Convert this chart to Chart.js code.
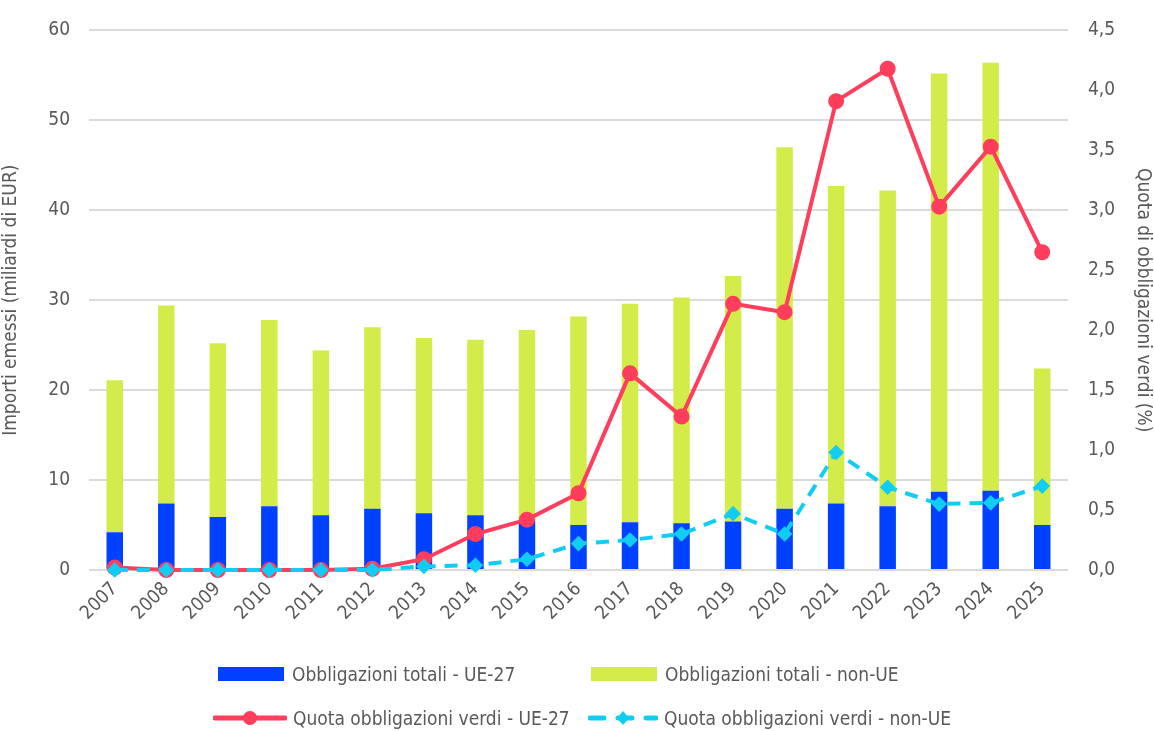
<!DOCTYPE html>
<html lang="it">
<head>
<meta charset="utf-8">
<title>Obbligazioni verdi</title>
<script src="https://cdn.jsdelivr.net/npm/chart.js@4.4.1/dist/chart.umd.min.js"></script>
<style>
  html, body { margin: 0; padding: 0; background: #fff; }
  body { width: 1154px; height: 731px; position: relative; overflow: hidden;
         font-family: 'Liberation Sans Narrow', 'DejaVu Sans Condensed', sans-serif; color: #595959; }
  #wrap { position: absolute; left: 0; top: 0; width: 1154px; height: 650px; }
  .legend { position: absolute; left: 0; top: 0; width: 1154px; height: 731px; pointer-events: none; }
  .item { position: absolute; display: flex; align-items: center; font-size: 19px; white-space: nowrap; }
  .item svg { margin-right: 6px; }
</style>
</head>
<body>
<div id="wrap"><canvas id="bondChart"></canvas></div>
<div class="legend" id="legend"></div>
<script>
    // Anni di emissione
    const years = ['2007', '2008', '2009', '2010', '2011', '2012', '2013', '2014', '2015', '2016',
                   '2017', '2018', '2019', '2020', '2021', '2022', '2023', '2024', '2025'];

    // Importi emessi, miliardi di EUR
    const totalEU = [4.2, 7.4, 5.9, 7.1, 6.1, 6.8, 6.3, 6.1, 5.5, 5.0,
                     5.3, 5.2, 5.4, 6.8, 7.4, 7.1, 8.7, 8.8, 5.0];
    const totalNonEU = [16.9, 22.0, 19.3, 20.7, 18.3, 20.2, 19.5, 19.5, 21.2, 23.2,
                        24.3, 25.1, 27.3, 40.2, 35.3, 35.1, 46.5, 47.6, 17.4];

    // Quota di obbligazioni verdi, %
    const greenEU = [0.02, 0.0, 0.0, 0.0, 0.0, 0.01, 0.09, 0.30, 0.42, 0.64,
                     1.64, 1.28, 2.22, 2.15, 3.91, 4.18, 3.03, 3.53, 2.65];
    const greenNonEU = [0.0, 0.0, 0.0, 0.0, 0.0, 0.0, 0.03, 0.04, 0.09, 0.22,
                        0.25, 0.30, 0.47, 0.30, 0.98, 0.69, 0.55, 0.56, 0.70];

    const leftTicks = [0, 10, 20, 30, 40, 50, 60];
    const rightTicks = [0, 0.5, 1, 1.5, 2, 2.5, 3, 3.5, 4, 4.5];

    const BLUE = '#0041ff';
    const LIME = '#d4ec4a';
    const RED = '#ff3d5c';
    const CYAN = '#12cdf3';
    const GREY = '#595959';
    const FONT = "'Liberation Sans Narrow', 'DejaVu Sans Condensed', sans-serif";

    const labelsBar = ['Obbligazioni totali - UE-27', 'Obbligazioni totali - non-UE'];
    const labelsLine = ['Quota obbligazioni verdi - UE-27', 'Quota obbligazioni verdi - non-UE'];

    const ctx = document.getElementById('bondChart').getContext('2d');
    const chart = new Chart(ctx, {
        type: 'bar',
        data: {
            labels: years,
            datasets: [{
                label: labelsBar[0],
                data: totalEU,
                backgroundColor: BLUE,
                yAxisID: 'y',
                order: 2,
                barPercentage: 0.64,
                categoryPercentage: 0.5
            }, {
                label: labelsBar[1],
                data: totalNonEU,
                backgroundColor: LIME,
                yAxisID: 'y',
                order: 2,
                barPercentage: 0.64,
                categoryPercentage: 0.5
            }, {
                type: 'line',
                label: labelsLine[0],
                data: greenEU,
                borderColor: RED,
                backgroundColor: RED,
                borderWidth: 4,
                pointRadius: 6,
                pointStyle: 'circle',
                yAxisID: 'y1',
                order: 1,
                clip: false
            }, {
                type: 'line',
                label: labelsLine[1],
                data: greenNonEU,
                borderColor: CYAN,
                backgroundColor: CYAN,
                borderWidth: 4,
                borderDash: [13, 9],
                pointRadius: 5,
                pointStyle: 'rectRot',
                yAxisID: 'y1',
                order: 0,
                clip: false
            }]
        },
        options: {
            responsive: true,
            maintainAspectRatio: false,
            animation: false,
            layout: { padding: { top: 23, right: 0, bottom: 0, left: 0 } },
            plugins: {
                legend: { display: false },
                tooltip: { enabled: false }
            },
            scales: {
                x: {
                    stacked: true,
                    grid: { display: false },
                    border: { display: false },
                    ticks: {
                        color: GREY,
                        font: { family: FONT, size: 19 },
                        minRotation: 45,
                        maxRotation: 45,
                        padding: 0
                    },
                    afterFit: (s) => { s.height = 80; }
                },
                y: {
                    stacked: true,
                    position: 'left',
                    min: 0,
                    max: 60,
                    afterBuildTicks: (s) => { s.ticks = leftTicks.map(v => ({ value: v })); },
                    grid: { color: '#dadada', lineWidth: 2, drawTicks: false },
                    border: { display: false },
                    ticks: {
                        color: GREY,
                        font: { family: FONT, size: 19 },
                        padding: 19
                    },
                    title: {
                        display: true,
                        text: 'Importi emessi (miliardi di EUR)',
                        color: GREY,
                        font: { family: FONT, size: 19 },
                        padding: { top: 0, bottom: 0 }
                    },
                    afterFit: (s) => { s.width = 89; }
                },
                y1: {
                    position: 'right',
                    min: 0,
                    max: 4.5,
                    afterBuildTicks: (s) => { s.ticks = rightTicks.map(v => ({ value: v })); },
                    grid: { display: false },
                    border: { display: false },
                    ticks: {
                        color: GREY,
                        font: { family: FONT, size: 19 },
                        padding: 12,
                        callback: (v) => Number(v).toFixed(1).replace('.', ',')
                    },
                    title: {
                        display: true,
                        text: 'Quota di obbligazioni verdi (%)',
                        color: GREY,
                        font: { family: FONT, size: 19 },
                        padding: { top: 0, bottom: 0 }
                    },
                    afterFit: (s) => { s.width = 86; }
                }
            }
        }
    });

    // Legenda su due righe con colonne allineate
    const legendItems = [
        { text: labelsBar[0], x: 218, y: 663, kind: 'box', color: BLUE },
        { text: labelsBar[1], x: 591, y: 663, kind: 'box', color: LIME },
        { text: labelsLine[0], x: 213, y: 707, kind: 'circle', color: RED },
        { text: labelsLine[1], x: 588, y: 707, kind: 'diamond', color: CYAN }
    ];

    function symbol(it) {
        if (it.kind === 'box') {
            return '<svg width="68" height="20"><rect x="0" y="3" width="66" height="14" fill="' + it.color + '"/></svg>';
        }
        if (it.kind === 'circle') {
            return '<svg width="74" height="20"><line x1="2" y1="10" x2="72" y2="10" stroke="' + it.color +
                '" stroke-width="5" stroke-linecap="round"/><circle cx="37" cy="10" r="7" fill="' + it.color + '"/></svg>';
        }
        return '<svg width="70" height="20"><line x1="2" y1="10" x2="68" y2="10" stroke="' + it.color +
            '" stroke-width="5" stroke-linecap="round" stroke-dasharray="14 14"/>' +
            '<polygon points="35,3 41,10 35,17 29,10" fill="' + it.color + '"/></svg>';
    }

    const legend = document.getElementById('legend');
    legendItems.forEach(it => {
        const el = document.createElement('div');
        el.className = 'item';
        el.style.left = it.x + 'px';
        el.style.top = it.y + 'px';
        el.innerHTML = symbol(it) + '<span>' + it.text + '</span>';
        legend.appendChild(el);
    });
</script>
</body>
</html>
